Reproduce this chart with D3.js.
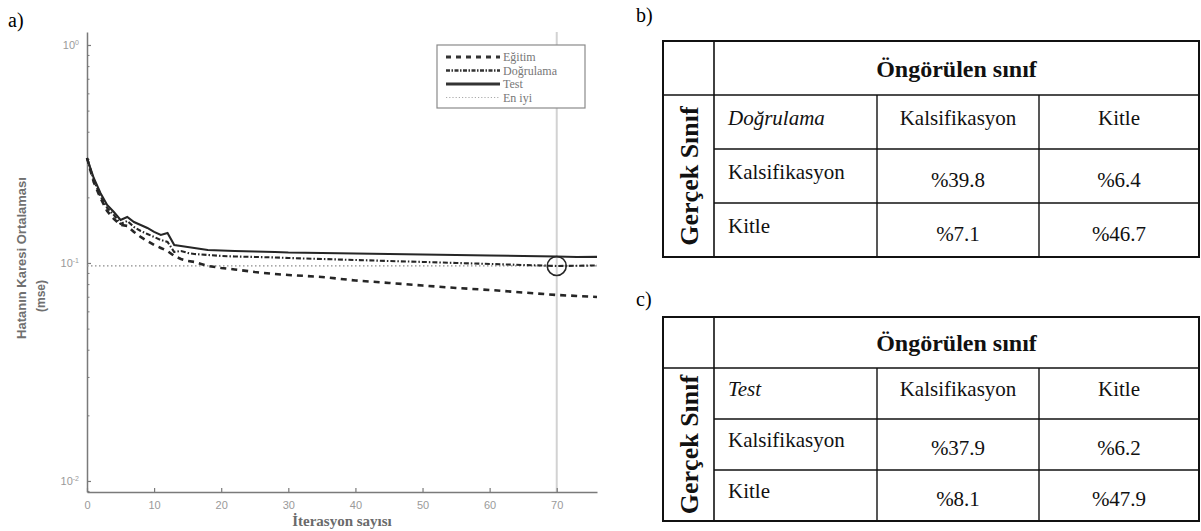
<!DOCTYPE html>
<html><head><meta charset="utf-8">
<script src="https://cdn.jsdelivr.net/npm/d3@7"></script>
<style>body{margin:0;background:#fff}svg{display:block}</style>
</head><body>
<svg id="c" width="1201" height="531"></svg>
<script>
// ---- data: performance curves (mse per iteration) ----
const iterations = [0,1,2,3,4,5,6,7,8,9,10,11,12,13,14,15,16,17,18,20,22,25,28,30,35,40,45,50,55,60,65,70,73,76];
const egitim     = [0.3031,0.2353,0.1987,0.1731,0.1592,0.1494,0.1479,0.1388,0.1316,0.1262,0.1210,0.1172,0.1135,0.1077,0.1043,0.1021,0.1011,0.0990,0.0969,0.0949,0.0934,0.0909,0.0890,0.0881,0.0863,0.0831,0.0810,0.0788,0.0768,0.0752,0.0732,0.0713,0.0706,0.0698];
const dogrulama  = [0.3031,0.2403,0.2029,0.1788,0.1661,0.1510,0.1559,0.1463,0.1402,0.1358,0.1316,0.1275,0.1248,0.1123,0.1135,0.1112,0.1100,0.1094,0.1088,0.1077,0.1071,0.1066,0.1060,0.1054,0.1043,0.1032,0.1021,0.1011,0.1000,0.0990,0.0979,0.0969,0.0971,0.0974];
const test       = [0.3031,0.2454,0.2095,0.1845,0.1714,0.1575,0.1626,0.1542,0.1494,0.1448,0.1388,0.1344,0.1373,0.1210,0.1197,0.1184,0.1172,0.1159,0.1147,0.1141,0.1135,0.1129,0.1123,0.1117,0.1111,0.1105,0.1100,0.1094,0.1088,0.1082,0.1077,0.1071,0.1066,0.1066];
const bestEpoch = 70;
const bestValue = 0.0969;
const seriesNames = ["Eğitim","Doğrulama","Test","En iyi"];
const xTicks = [0,10,20,30,40,50,60,70];
const yTicks = [1,0.1,0.01];
const xLabel = "İterasyon sayısı";
const yLabel1 = "Hatanın Karesi Ortalaması";
const yLabel2 = "(mse)";

// ---- data: confusion tables ----
const predictedHeader = "Öngörülen sınıf";
const actualHeader = "Gerçek Sınıf";
const classes = ["Kalsifikasyon","Kitle"];
const tableNames = ["Doğrulama","Test"];
const valuesB = [[39.8,6.4],[7.1,46.7]];
const valuesC = [[37.9,6.2],[8.1,47.9]];
const panelLabels = ["a)","b)","c)"];

const svg = d3.select("#c");
const SERIF = "'Liberation Serif'";
const SANS = "'Liberation Sans'";

// ---- chart a ----
const x = d3.scaleLinear().domain([0,76]).range([87,597]);
const y = d3.scaleLog().domain([0.0089,1.147]).range([492,32]);

svg.append("text").attr("x",8).attr("y",27).attr("font-family",SERIF).attr("font-size",20).text(panelLabels[0]);

// best epoch vertical line
svg.append("line").attr("x1",x(bestEpoch)).attr("x2",x(bestEpoch)).attr("y1",32).attr("y2",492)
  .attr("stroke","#d2d2d2").attr("stroke-width",2);

// axes
const axisColor = "#7a7a7a";
const xAxis = svg.append("g").attr("transform","translate(0,492)")
  .call(d3.axisBottom(x).tickValues(xTicks).tickSizeInner(-4).tickSizeOuter(0).tickPadding(9).tickFormat(d3.format("d")));
const yAxis = svg.append("g").attr("transform","translate(87,0)")
  .call(d3.axisLeft(y).tickValues(yTicks).tickSizeInner(-4).tickSizeOuter(0).tickPadding(8));
// minor ticks
const minor = [];
[-3,-2,-1,0].forEach(e=>{for(let k=2;k<=9;k++){const v=k*Math.pow(10,e); if(v>0.0089&&v<1.147) minor.push(v);}});
svg.append("g").attr("transform","translate(87,0)")
  .call(d3.axisLeft(y).tickValues(minor).tickSizeInner(-2.5).tickSizeOuter(0).tickFormat(""))
  .call(g=>g.select(".domain").remove())
  .selectAll("line").attr("stroke",axisColor);

[xAxis,yAxis].forEach(g=>{
  g.select(".domain").attr("stroke",axisColor).attr("stroke-width",1.5);
  g.selectAll(".tick line").attr("stroke",axisColor).attr("stroke-width",1.2);
  g.selectAll(".tick text").attr("fill","#9a9a9a").attr("font-family",SANS).attr("font-size",11);
});
yAxis.selectAll(".tick text").each(function(d){
  const e = Math.round(Math.log10(d));
  const t = d3.select(this);
  t.text("10");
  t.append("tspan").attr("dy","-0.55em").attr("font-size",7).text(e);
});

// axis labels
svg.append("text").attr("x",342).attr("y",526).attr("text-anchor","middle")
  .attr("font-family",SERIF).attr("font-weight","bold").attr("font-size",15).attr("fill","#6a6a6a").text(xLabel);
svg.append("text").attr("transform","translate(26,258) rotate(-90)").attr("text-anchor","middle")
  .attr("font-family",SANS).attr("font-weight","bold").attr("font-size",13).attr("fill","#707070").text(yLabel1);
svg.append("text").attr("transform","translate(45,296) rotate(-90)").attr("text-anchor","middle")
  .attr("font-family",SANS).attr("font-weight","bold").attr("font-size",12).attr("fill","#707070").text(yLabel2);

// best horizontal dotted line
svg.append("line").attr("x1",x(0)).attr("x2",x(76)).attr("y1",y(bestValue)).attr("y2",y(bestValue))
  .attr("stroke","#8a8a8a").attr("stroke-width",1.2).attr("stroke-dasharray","1.5,2.5");

const styles = [
  {data:egitim, dash:"6,5", w:2.6},
  {data:dogrulama, dash:"5,2,1.5,2", w:2.1},
  {data:test, dash:null, w:2.1}
];
const line = d3.line().x((d,i)=>x(iterations[i])).y(d=>y(d));
styles.forEach(s=>{
  svg.append("path").datum(s.data).attr("d",line).attr("fill","none")
    .attr("stroke","#262626").attr("stroke-width",s.w).attr("stroke-dasharray",s.dash);
});
// best circle
svg.append("circle").attr("cx",x(bestEpoch)).attr("cy",y(bestValue)).attr("r",9.5)
  .attr("fill","none").attr("stroke","#262626").attr("stroke-width",1.6);

// legend
const lg = svg.append("g");
lg.append("rect").attr("x",437).attr("y",45).attr("width",148).attr("height",63)
  .attr("fill","#fff").attr("stroke","#8a8a8a").attr("stroke-width",1.2);
const legStyles = [
  {dash:"5,5", w:2.8, c:"#333"},
  {dash:"4,1.5,1.5,1.5", w:2.3, c:"#333"},
  {dash:null, w:2.8, c:"#333"},
  {dash:"1.2,2", w:1, c:"#aaa"}
];
seriesNames.forEach((n,i)=>{
  const yy = 57 + i*13.5;
  lg.append("line").attr("x1",446).attr("x2",500).attr("y1",yy).attr("y2",yy)
    .attr("stroke",legStyles[i].c).attr("stroke-width",legStyles[i].w).attr("stroke-dasharray",legStyles[i].dash);
  lg.append("text").attr("x",503).attr("y",yy+4).attr("font-family",SERIF).attr("font-size",12)
    .attr("fill","#777").text(n);
});

// ---- tables ----
const cols = [663,714,877,1039,1199];
function drawTable(top, rowH, name, vals, label, labelY){
  const g = svg.append("g");
  const rows = d3.range(5).map(i=>top+i*rowH);
  g.append("text").attr("x",636).attr("y",labelY).attr("font-family",SERIF).attr("font-size",20).text(label);
  const ln = (x1,y1,x2,y2,w)=>g.append("line").attr("x1",x1).attr("y1",y1).attr("x2",x2).attr("y2",y2)
      .attr("stroke","#111").attr("stroke-width",w);
  ln(cols[0],rows[1],cols[4],rows[1],1.6);
  ln(cols[1],rows[2],cols[4],rows[2],1.4);
  ln(cols[1],rows[3],cols[4],rows[3],1.4);
  ln(cols[1],rows[0],cols[1],rows[4],1.6);
  ln(cols[2],rows[1],cols[2],rows[4],1.4);
  ln(cols[3],rows[1],cols[3],rows[4],1.4);
  g.append("rect").attr("x",cols[0]).attr("y",rows[0]).attr("width",cols[4]-cols[0]).attr("height",rows[4]-rows[0])
    .attr("fill","none").attr("stroke","#111").attr("stroke-width",2);
  const txt = (xx,yy,t,anchor,opts={})=>g.append("text").attr("x",xx).attr("y",yy).attr("text-anchor",anchor)
      .attr("font-family",SERIF).attr("font-size",opts.size||21).attr("font-weight",opts.bold?"bold":"normal")
      .attr("font-style",opts.italic?"italic":"normal").attr("fill","#111").text(t);
  const k = rowH/52;
  txt((cols[1]+cols[4])/2, rows[0]+35*k, predictedHeader, "middle", {size:24,bold:true});
  g.append("text").attr("transform",`translate(${(cols[0]+cols[1])/2+9},${(rows[1]+rows[4])/2}) rotate(-90)`)
    .attr("text-anchor","middle").attr("font-family",SERIF).attr("font-size",26).attr("font-weight","bold")
    .attr("fill","#111").text(actualHeader);
  txt(cols[1]+14, rows[1]+29*k, name, "start", {italic:true});
  classes.forEach((c,j)=>txt((cols[2+j]+cols[3+j])/2, rows[1]+29*k, c, "middle"));
  classes.forEach((c,i)=>{
    txt(cols[1]+14, rows[2+i]+29*k, c, "start");
    vals[i].forEach((v,j)=>txt((cols[2+j]+cols[3+j])/2, rows[2+i]+37*k, "%"+v, "middle"));
  });
}
drawTable(41, 54, tableNames[0], valuesB, panelLabels[1], 22);
drawTable(317, 51, tableNames[1], valuesC, panelLabels[2], 306);
</script>
</body></html>
